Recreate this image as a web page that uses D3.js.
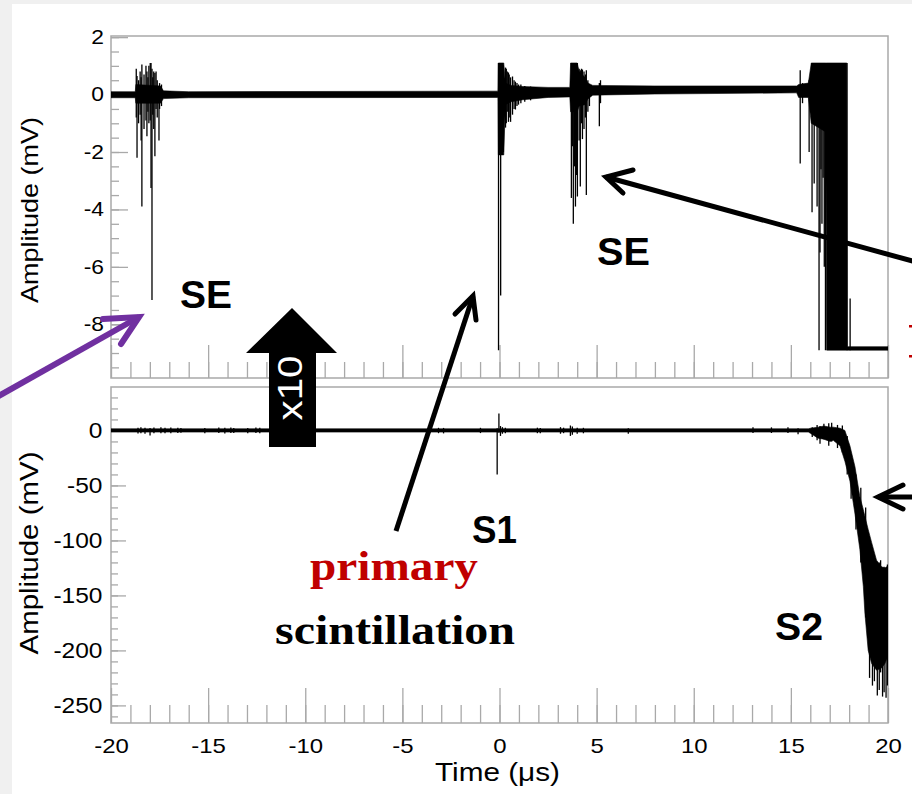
<!DOCTYPE html>
<html><head><meta charset="utf-8">
<script src="https://cdn.jsdelivr.net/npm/d3@7"></script>
<style>
html,body{margin:0;padding:0;background:#f0f0f0;}
svg{display:block;}
</style></head>
<body>
<svg id="c" width="912" height="794"></svg>
<script>
// ---------------- DATA ----------------
const xMajorTicks = [-20, -15, -10, -5, 0, 5, 10, 15, 20];
const xTickLabels = ["-20", "-15", "-10", "-5", "0", "5", "10", "15", "20"];
const topYTicks = [2, 0, -2, -4, -6, -8];
const topYLabels = ["2", "0", "-2", "-4", "-6", "-8"];
const botYTicks = [0, -50, -100, -150, -200, -250];
const botYLabels = ["0", "-50", "-100", "-150", "-200", "-250"];

// Upper panel (x10 amplified), envelope of the trace: time (us), min / max (mV)
const topEnvT  = [-20, -18.75, -18.72, -17.45, -17.3, -16, -0.08, -0.06, 0.22, 0.3, 0.6, 1.2, 2.5, 3.62, 3.66, 4.0, 4.1, 4.4, 4.55, 4.8, 8, 15.3, 15.4, 15.9, 16.05, 16.8, 16.84, 17.88, 17.9, 20];
const topEnvLo = [-0.11, -0.11, -0.3, -0.3, -0.14, -0.11, -0.1, -2.1, -2.1, -0.35, -0.25, -0.18, -0.1, -0.08, -0.6, -0.6, -0.4, -0.35, -0.15, -0.02, 0.02, 0.06, -0.1, -0.1, -1.0, -1.3, -8.9, -8.9, -8.9, -8.9];
const topEnvHi = [0.1, 0.1, 0.35, 0.3, 0.13, 0.1, 0.12, 1.1, 1.1, 0.4, 0.32, 0.28, 0.25, 0.25, 1.1, 1.1, 0.8, 0.6, 0.4, 0.32, 0.3, 0.3, 0.35, 0.4, 1.1, 1.1, 1.1, 1.1, -8.78, -8.78];
// Upper panel individual spikes: time, min, max
const topSpikeT  = [-18.7, -18.66, -18.58, -18.5, -18.45, -18.41, -18.3, -18.2, -18.15, -18.1, -18.05, -17.98, -17.94, -17.89, -17.85, -17.8, -17.74, -17.68, -17.62, -17.53, -17.5, -17.4,
                    -0.05, 0.0, 0.06, 0.12, 0.2, 0.31, 0.35, 0.4, 0.46, 0.5, 0.57, 0.67, 0.75, 0.82, 0.9, 0.98, 1.1, 1.3, 1.6,
                    3.70, 3.75, 3.80, 3.86, 3.91, 3.96, 4.01, 4.10, 4.16, 4.22, 4.27, 4.35, 4.42, 4.47, 4.55, 4.63, 5.14, 5.2,
                    15.48, 15.6, 15.94, 16.09, 16.2, 16.35, 16.45, 16.5, 16.55, 16.6, 16.66, 16.72, 16.78, 17.89, 18.05];
const topSpikeLo = [-0.8, -2.2, -1.0, -0.7, -1.6, -3.9, -1.2, -0.9, -1.45, -0.6, -1.0, -0.9, -3.25, -7.15, -0.7, -1.2, -2.15, -0.5, -0.8, -1.6, -0.5, -0.4,
                    -8.9, -2.0, -7.0, -2.1, -2.0, -1.15, -1.0, -0.6, -0.95, -0.8, -0.95, -0.7, -0.5, -0.52, -0.4, -0.35, -0.3, -0.25, -0.2,
                    -3.6, -1.8, -4.5, -2.5, -3.9, -2.8, -3.55, -1.6, -3.2, -1.0, -1.55, -1.2, -0.8, -3.5, -0.6, -0.4, -1.1, -0.3,
                    -2.4, -0.3, -2.0, -4.1, -3.1, -3.9, -8.9, -5.5, -2.6, -4.5, -2.9, -6.0, -8.9, -8.9, -8.9];
const topSpikeHi = [0.9, 0.65, 0.5, 0.8, 0.6, 1.05, 0.7, 1.0, 0.8, 0.6, 1.0, 1.1, 1.1, 0.9, 0.6, 0.8, 0.75, 0.8, 0.5, 0.3, 0.4, 0.35,
                    1.1, 1.1, 1.1, 1.1, 1.0, 0.94, 0.9, 0.8, 0.77, 0.7, 0.6, 0.63, 0.5, 0.45, 0.4, 0.35, 0.35, 0.3, 0.28,
                    1.1, 1.1, 1.1, 1.1, 1.1, 1.1, 1.1, 0.9, 0.85, 0.9, 0.87, 0.8, 0.7, 0.85, 0.5, 0.3, 0.4, 0.5,
                    0.85, 0.4, 0.5, 1.1, 1.1, 1.1, 1.1, 1.1, 1.1, 1.1, 1.1, 1.1, 1.1, 1.1, -7.1];

// Lower panel envelope: time (us), min / max (mV)
const botEnvT  = [-20, 15.9, 16.0, 16.4, 16.7, 17.02, 17.18, 17.53, 17.78, 18.04, 18.30, 18.55, 18.73, 18.81, 18.98, 19.16, 19.41, 19.67, 19.84, 19.93, 20];
const botEnvLo = [-1.5, -1.5, -2.5, -7, -8, -10, -9, -14, -28, -46, -76, -108, -142, -166, -200, -212, -218, -216, -212, -208, -205];
const botEnvHi = [1.5, 1.5, 2, 3, 4, 3, 3, 2, 0, -14, -33, -60, -72, -78, -90, -102, -118, -124, -125, -124, -124];
// Lower panel individual spikes
const botSpikeT  = [-18.61, -18.46, -18.25, -17.99, -17.79, -17.43, -17.22, -16.92, -16.56, -16.40, -15.17, -14.45, -14.14, -13.83, -13.68, -12.96, -12.54, -12.34,
                    -3.14, -2.88, -0.98, -0.12, -0.03, 0.05, 0.15, 0.3, 1.95, 2.1, 3.14, 3.3, 3.65, 3.75, 4.0, 4.32, 6.63,
                    13.05, 14.0, 14.85, 15.37, 16.1, 16.35, 16.5, 16.7, 16.95, 17.1, 17.4, 17.65, 17.9, 18.1, 18.35, 18.6, 18.85,
                    19.05, 19.2, 19.3, 19.45, 19.55, 19.62, 19.72, 19.8, 19.9, 19.97];
const botSpikeLo = [-2.8, -2.5, -3, -4.5, -2.6, -2.5, -2.6, -2.5, -2.4, -2.2, -2.5, -2.4, -2.8, -2.4, -2.4, -2.6, -2.4, -2.5,
                    -2.5, -2.7, -2.4, -40, -2, -5, -3, -2.5, -2.5, -2.6, -3, -2.5, -5, -4, -3, -2.6, -3,
                    -2.3, -2.3, -2.3, -3.5, -6, -9, -12, -8, -14, -10, -16, -20, -40, -62, -90, -120, -170,
                    -225, -232, -228, -241, -236, -220, -242, -238, -243, -232];
const botSpikeHi = [2.5, 2.8, 2.5, 2.2, 2.6, 2.8, 2.4, 2.6, 2.5, 2.2, 2.3, 2.6, 2.4, 2.7, 2.3, 2.3, 2.6, 2.4,
                    2.4, 2.3, 2.4, 2, 15.5, 4, 3, 2.5, 2.5, 2.2, 3, 2.5, 4.5, 3.5, 2.5, 2.4, 2,
                    2.8, 2.8, 2.8, 2, 3, 5, 4, 6, 6.5, 7, 5, 4.5, -5, -22, -40, -52, -70,
                    -110, -115, -120, -125, -120, -118, -126, -124, -125, -122];

// ---------------- DRAWING ----------------
const svg = d3.select("#c");
const SANS = "'Liberation Sans', Arial, Helvetica, sans-serif";
const SERIF = "'Liberation Serif', 'Times New Roman', serif";
const STRETCH = 1.14;
const GRID = "#a9a9a9";

svg.append("rect").attr("x", 12).attr("y", 4).attr("width", 900).attr("height", 790).attr("fill", "#fff");

const L = 111, R = 888;
const x = d3.scaleLinear().domain([-20, 20]).range([L, R]);
const yT = d3.scaleLinear().domain([-9.87, 2.04]).range([378, 36]);
const yB = d3.scaleLinear().domain([-266, 39.5]).range([723, 387]);

const defs = svg.append("defs");
defs.append("clipPath").attr("id", "clipT").append("rect").attr("x", L).attr("y", 36).attr("width", R - L).attr("height", 342);
defs.append("clipPath").attr("id", "clipB").append("rect").attr("x", L).attr("y", 387).attr("width", R - L).attr("height", 336);

function styleAxis(g, fs) {
  g.select(".domain").remove();
  g.selectAll(".tick line").attr("stroke", GRID).attr("stroke-width", 1.3);
  g.selectAll(".tick text").attr("fill", "#000").attr("font-family", SANS).attr("font-size", fs).classed("wide", true);
}

function panel(y, top, bottom, yTicks, yLabels, yMinorStep, yDom, o) {
  const g = svg.append("g");
  g.append("rect").attr("x", L).attr("y", top).attr("width", R - L).attr("height", bottom - top)
    .attr("fill", "none").attr("stroke", GRID).attr("stroke-width", 1.5);
  const minors = d3.range(Math.ceil(yDom[0] / yMinorStep) * yMinorStep, yDom[1] + 1e-9, yMinorStep);
  g.append("g").attr("transform", `translate(${L},0)`)
    .call(d3.axisLeft(y).tickValues(minors).tickSize(-o.yMin).tickFormat(""))
    .call(a => styleAxis(a, o.fsY));
  g.append("g").attr("transform", `translate(${L},0)`)
    .call(d3.axisLeft(y).tickValues(yTicks).tickSize(-o.yMaj).tickPadding(o.padY).tickFormat((d, i) => yLabels[i]))
    .call(a => styleAxis(a, o.fsY));
  g.append("g").attr("transform", `translate(0,${bottom})`)
    .call(d3.axisBottom(x).tickValues(d3.range(-19, 20, 1)).tickSize(-o.xMin).tickFormat(""))
    .call(a => styleAxis(a, o.fsX));
  g.append("g").attr("transform", `translate(0,${bottom})`)
    .call(d3.axisBottom(x).tickValues(xMajorTicks).tickSize(-o.xMaj).tickPadding(o.padX)
      .tickFormat((d, i) => o.xLabels ? xTickLabels[i] : ""))
    .call(a => styleAxis(a, o.fsX));
  return g;
}

panel(yT, 36, 378, topYTicks, topYLabels, 0.5, [-9.87, 2.04],
  { yMin: 8, yMaj: 17, padY: 7, xMin: 16, xMaj: 33, padX: 15, fsY: 20, fsX: 21, xLabels: false });
panel(yB, 387, 723, botYTicks, botYLabels, 10, [-266, 39.5],
  { yMin: 7, yMaj: 15, padY: 8.5, xMin: 18, xMaj: 35, padX: 15, fsY: 21.5, fsX: 21, xLabels: true });

// traces
function trace(clipId, y, envT, envLo, envHi, spT, spLo, spHi, sw) {
  const g = svg.append("g").attr("clip-path", `url(#${clipId})`);
  const env = envT.map((t, i) => ({ t, lo: envLo[i], hi: envHi[i] }));
  g.append("path").datum(env)
    .attr("d", d3.area().x(d => x(d.t)).y0(d => y(d.lo)).y1(d => y(d.hi)))
    .attr("fill", "#000").attr("stroke", "#000").attr("stroke-width", 0.6);
  const sp = spT.map((t, i) => ({ t, lo: spLo[i], hi: spHi[i] }));
  g.selectAll("line.sp").data(sp).enter().append("line")
    .attr("x1", d => x(d.t)).attr("x2", d => x(d.t))
    .attr("y1", d => y(d.lo)).attr("y2", d => y(d.hi))
    .attr("stroke", "#000").attr("stroke-width", sw);
}
trace("clipT", yT, topEnvT, topEnvLo, topEnvHi, topSpikeT, topSpikeLo, topSpikeHi, 1.3);
trace("clipB", yB, botEnvT, botEnvLo, botEnvHi, botSpikeT, botSpikeLo, botSpikeHi, 1.3);

// axis titles
svg.append("text").attr("transform", "translate(38,210) rotate(-90)").attr("text-anchor", "middle")
  .attr("font-family", SANS).attr("font-size", 23.7).attr("textLength", 186).attr("lengthAdjust", "spacingAndGlyphs")
  .text("Amplitude (mV)");
svg.append("text").attr("transform", "translate(37.5,553) rotate(-90)").attr("text-anchor", "middle")
  .attr("font-family", SANS).attr("font-size", 26).attr("textLength", 203).attr("lengthAdjust", "spacingAndGlyphs")
  .text("Amplitude (mV)");
svg.append("text").attr("x", 435).attr("y", 781)
  .attr("font-family", SANS).attr("font-size", 25.8).attr("textLength", 125).attr("lengthAdjust", "spacingAndGlyphs")
  .text("Time (\u03BCs)");

svg.selectAll("text.wide").each(function () {
  const t = this.getComputedTextLength();
  if (t > 0) d3.select(this).attr("textLength", t * STRETCH).attr("lengthAdjust", "spacingAndGlyphs");
});

// annotation labels
function label(txt, x0, yb, fs, len, fam, col) {
  svg.append("text").attr("x", x0).attr("y", yb).attr("font-family", fam).attr("font-weight", "bold")
    .attr("font-size", fs).attr("fill", col).attr("textLength", len).attr("lengthAdjust", "spacingAndGlyphs").text(txt);
}
label("SE", 180, 308, 38, 52, SANS, "#000");
label("SE", 597, 265, 38, 53, SANS, "#000");
label("S1", 472, 543, 38, 45, SANS, "#000");
label("S2", 775, 640, 38, 48, SANS, "#000");
label("primary", 310, 580, 42, 168, SERIF, "#c00000");
label("scintillation", 275, 644, 42, 240, SERIF, "#000");

// arrows
function arrow(x1, y1, tx, ty, a1x, a1y, a2x, a2y, col, w) {
  svg.append("path").attr("d", `M${x1},${y1}L${tx},${ty}`).attr("stroke", col).attr("stroke-width", w).attr("fill", "none");
  svg.append("path").attr("d", `M${a1x},${a1y}L${tx},${ty}L${a2x},${a2y}`).attr("stroke", col).attr("stroke-width", w)
    .attr("fill", "none").attr("stroke-linejoin", "miter").attr("stroke-linecap", "round");
}
arrow(-5, 398, 139, 317, 103, 319, 121, 344, "#7030a0", 6);
arrow(396, 531, 473, 296, 455, 314, 476, 320, "#000", 5);
arrow(916, 262, 606, 177, 633, 170, 623, 193, "#000", 5);
arrow(914, 497, 878, 497, 903, 485, 903, 509, "#000", 5);

svg.append("rect").attr("x", 909).attr("y", 325).attr("width", 3).attr("height", 2.5).attr("fill", "#c00000");
svg.append("rect").attr("x", 909).attr("y", 355).attr("width", 3).attr("height", 2.5).attr("fill", "#c00000");

// x10 block arrow
svg.append("path").attr("d", "M292,308L337,353L316,353L316,447L269,447L269,353L246,353Z").attr("fill", "#000");
svg.append("text").attr("transform", "translate(302,388) rotate(-90)").attr("text-anchor", "middle")
  .attr("font-family", SANS).attr("font-size", 35).attr("fill", "#fff")
  .attr("textLength", 65).attr("lengthAdjust", "spacingAndGlyphs").text("x10");
</script>
</body></html>
